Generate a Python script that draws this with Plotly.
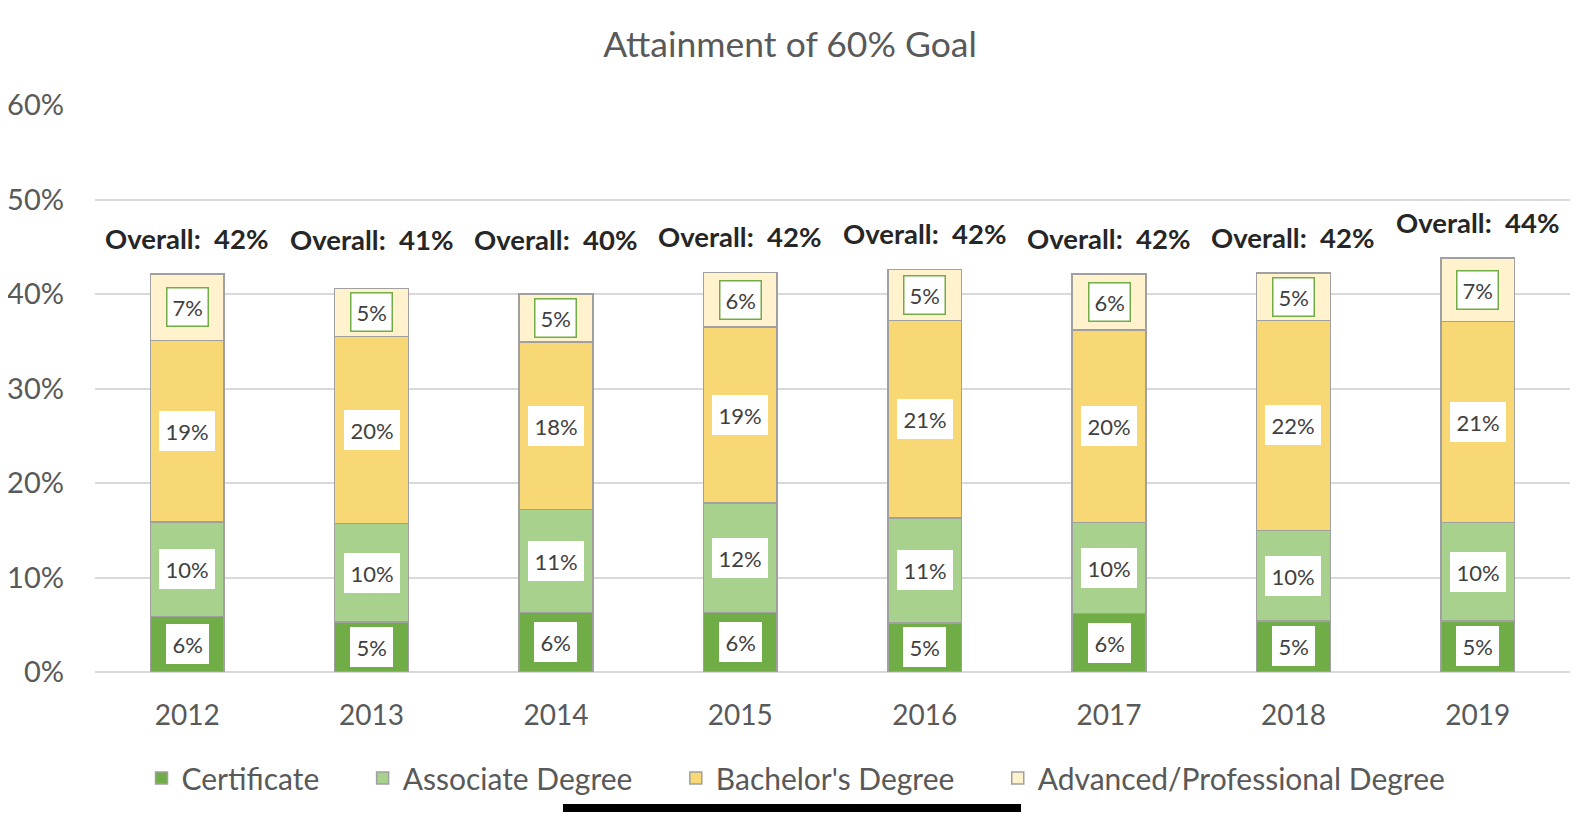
import plotly.graph_objects as go

# ---- data ----
years = ["2012", "2013", "2014", "2015", "2016", "2017", "2018", "2019"]
certificate = [5.9, 5.3, 6.3, 6.3, 5.2, 6.2, 5.4, 5.4]
associate = [10.0, 10.4, 10.9, 11.6, 11.1, 9.6, 9.6, 10.4]
bachelors = [19.2, 19.8, 17.7, 18.6, 20.9, 20.4, 22.2, 21.3]
advanced = [7.0, 5.1, 5.1, 5.8, 5.4, 5.9, 5.0, 6.7]
overall = [42, 41, 40, 42, 42, 42, 42, 44]

series_names = ["Certificate", "Associate Degree", "Bachelor's Degree",
                "Advanced/Professional Degree"]
series_values = [certificate, associate, bachelors, advanced]
series_colors = ["#70AD47", "#A9D18E", "#F8D775", "#FFF2CC"]

FONT = "Lato, Carlito, Calibri, sans-serif"
# The page body has an 8px default margin; size the figure so the page is
# exactly the window size, and map reference pixels accordingly.
OFF = 8
W, H = 1585 - 2 * OFF, 828 - 2 * OFF
L, R, T, B = 87, 7, 97, 148
plot_w = W - L - R
plot_h = H - T - B


def px_x(p):
    return (p - OFF - L) / plot_w


def px_y(p):
    return (H - B - (p - OFF)) / plot_h


LABEL_FLOOR = 42  # overall labels are never placed lower than this level
LEGEND_PAD = "\u00a0" * 5  # extra spacing after legend entries

fig = go.Figure()
for k, (name, vals, col) in enumerate(zip(series_names, series_values, series_colors)):
    fig.add_trace(go.Bar(
        x=years, y=vals,
        name=name + (LEGEND_PAD if k < len(series_names) - 1 else ""),
        marker=dict(color=col, line=dict(color="#A0A0A0", width=1.5)),
        hoverinfo="skip",
    ))

annotations = []
# segment value labels in white boxes
base = [0.0] * len(years)
for si, vals in enumerate(series_values):
    for i, v in enumerate(vals):
        annotations.append(dict(
            x=i, y=base[i] + v / 2, xref="x", yref="y",
            text=f"{round(v)}%", showarrow=False,
            font=dict(family=FONT, size=22, color="#404040"),
            bgcolor="#FFFFFF",
            bordercolor="#70AD47" if si == 3 else "#FFFFFF",
            borderwidth=1.5, borderpad=5,
        ))
        base[i] += v

# overall labels
for i, o in enumerate(overall):
    annotations.append(dict(
        x=i, y=max(base[i], LABEL_FLOOR), xref="x", yref="y",
        text=f"<b>Overall:\u00a0 {o}%</b>", showarrow=False,
        yanchor="middle", yshift=36,
        font=dict(family=FONT, size=27.5, color="#262626"),
    ))

shapes = [
    # phone home-indicator bar of the screenshot
    dict(type="rect", xref="paper", yref="paper",
         x0=px_x(563), x1=px_x(1021), y0=px_y(812), y1=px_y(801),
         fillcolor="#000000", line=dict(width=0), layer="above"),
]

fig.update_layout(
    width=W, height=H,
    margin=dict(l=L, r=R, t=T, b=B, autoexpand=False),
    barmode="stack", bargap=0.6,
    paper_bgcolor="#FFFFFF", plot_bgcolor="#FFFFFF",
    font=dict(family=FONT, color="#595959"),
    title=dict(text="Attainment of 60% Goal", x=(790 - OFF) / W, xref="container",
               y=1 - (45 - OFF) / H, yref="container", yanchor="middle",
               xanchor="center",
               font=dict(family=FONT, size=35.5, color="#595959")),
    xaxis=dict(type="category", range=[-0.5, 7.5], showgrid=False,
               showline=False, zeroline=False, ticks="",
               ticklabelstandoff=24,
               tickfont=dict(family=FONT, size=28, color="#595959")),
    yaxis=dict(range=[0, 60], dtick=10, ticksuffix="%", showgrid=True,
               gridcolor="#D9D9D9", gridwidth=1.5, zeroline=True,
               zerolinecolor="#D9D9D9", zerolinewidth=1.5, showline=False,
               ticklabelstandoff=30,
               tickfont=dict(family=FONT, size=29, color="#595959")),
    legend=dict(orientation="h", x=px_x(796), xanchor="center",
                y=px_y(778), yanchor="middle", traceorder="normal",
                font=dict(family=FONT, size=30, color="#595959")),
    annotations=annotations,
    shapes=shapes,
    showlegend=True,
)

fig.write_html("out.html")
